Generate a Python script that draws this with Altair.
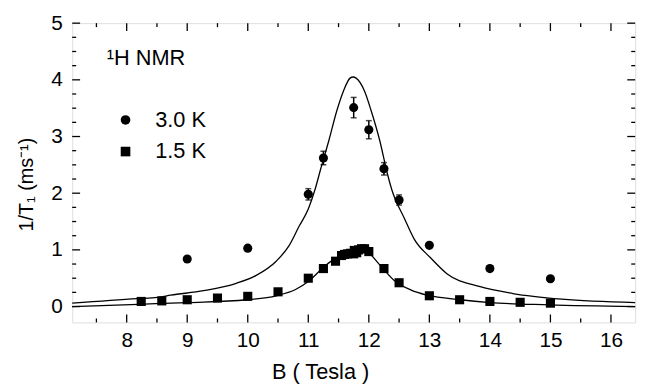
import altair as alt
import pandas as pd

# ---- data ----
# 3.0 K (circles) with error bars
b30 = [9.0, 10.0, 11.0, 11.25, 11.75, 12.0, 12.25, 12.5, 13.0, 14.0, 15.0]
r30 = [0.84, 1.03, 1.98, 2.62, 3.51, 3.12, 2.43, 1.88, 1.08, 0.67, 0.49]
e30 = [0.0, 0.0, 0.10, 0.12, 0.18, 0.16, 0.11, 0.09, 0.0, 0.0, 0.0]

# 1.5 K (squares)
b15 = [8.24, 8.58, 9.0, 9.5, 10.0, 10.5, 11.0, 11.25, 11.45, 11.55, 11.6, 11.65,
       11.7, 11.75, 11.8, 11.76, 11.83, 11.88, 11.93, 12.0, 12.25, 12.5, 13.0,
       13.5, 14.0, 14.5, 15.0]
r15 = [0.09, 0.10, 0.12, 0.15, 0.18, 0.26, 0.50, 0.67, 0.80, 0.90, 0.92, 0.93,
       0.94, 0.93, 0.95, 0.99, 1.00, 1.02, 1.02, 0.97, 0.67, 0.42, 0.19,
       0.12, 0.09, 0.075, 0.06]

# fitted curves
fit30_b = [7.1, 8.18, 8.51, 8.73, 9.27, 9.81, 10.14, 10.47, 10.68, 10.85, 11.0,
           11.11, 11.2, 11.34, 11.47, 11.58, 11.69, 11.74, 11.79, 11.93, 12.04,
           12.18, 12.31, 12.38, 12.59, 12.75, 13.02, 13.29, 13.84, 14.38, 15.19, 16.4]
fit30_r = [0.06, 0.14, 0.16, 0.20, 0.28, 0.41, 0.55, 0.80, 1.07, 1.42, 1.72,
           2.06, 2.41, 2.93, 3.45, 3.80, 4.03, 4.05, 4.03, 3.80, 3.45,
           2.93, 2.33, 2.06, 1.55, 1.19, 0.86, 0.58, 0.35, 0.23, 0.13, 0.07]
fit15_b = [7.1, 8.19, 9.0, 9.98, 10.47, 10.79, 11.0, 11.23, 11.39, 11.61, 11.75,
           11.9, 12.0, 12.21, 12.42, 12.7, 12.97, 13.51, 14.0, 14.98, 16.4]
fit15_r = [0.0, 0.04, 0.07, 0.12, 0.19, 0.30, 0.44, 0.67, 0.81, 0.94, 1.00,
           1.03, 0.95, 0.70, 0.46, 0.29, 0.20, 0.12, 0.07, 0.03, 0.0]

# axis ticks
x_major = [8, 9, 10, 11, 12, 13, 14, 15, 16]
x_minor = [7.5, 8.5, 9.5, 10.5, 11.5, 12.5, 13.5, 14.5, 15.5]
y_major = [0, 1, 2, 3, 4, 5]
y_minor = [0.25, 0.5, 0.75, 1.25, 1.5, 1.75, 2.25, 2.5, 2.75, 3.25, 3.5, 3.75,
           4.25, 4.5, 4.75]

FONT = "Liberation Sans"
W, H = 570, 303

xs = alt.Scale(domain=[7.1, 16.4], nice=False, zero=False)
ys = alt.Scale(domain=[-0.28, 5], nice=False, zero=False)

pts = pd.DataFrame({
    "B": b30 + b15,
    "R": r30 + r15,
    "series": ["3.0 K"] * len(b30) + ["1.5 K"] * len(b15),
})
err = pd.DataFrame({"B": b30, "lo": [r - e for r, e in zip(r30, e30)],
                    "hi": [r + e for r, e in zip(r30, e30)], "e": e30})
err = err[err["e"] > 0]
fits = pd.DataFrame({
    "B": fit30_b + fit15_b,
    "R": fit30_r + fit15_r,
    "curve": ["3.0 K"] * len(fit30_b) + ["1.5 K"] * len(fit15_b),
})

xaxis = alt.Axis(title="B ( Tesla )", values=x_major, format="d", ticks=False,
                 domain=False, grid=False, labelFontSize=21, titleFontSize=22,
                 labelPadding=7, titlePadding=12, titleFontWeight="normal",
                 labelFont=FONT, titleFont=FONT, labelColor="black",
                 titleColor="black", titleX=251, titleAnchor="middle")
yaxis = alt.Axis(title="1/T\u2081 (ms\u207b\u00b9)", values=y_major, format="d",
                 ticks=False, domain=False, grid=False, labelFontSize=21,
                 titleFontSize=20, labelPadding=10, titleFontWeight="normal",
                 labelFont=FONT, titleFont=FONT, labelColor="black",
                 titleColor="black", titleX=-36, titleY=163)

curves = alt.Chart(fits).mark_line(color="black", strokeWidth=1.3,
                                   interpolate="monotone").encode(
    x=alt.X("B:Q", scale=xs, axis=xaxis),
    y=alt.Y("R:Q", scale=ys, axis=yaxis),
    detail="curve:N",
)

bars = alt.Chart(err).mark_rule(color="black", strokeWidth=1.5).encode(
    x=alt.X("B:Q", scale=xs), y=alt.Y("lo:Q", scale=ys), y2="hi:Q")
cap_lo = alt.Chart(err).mark_tick(color="black", orient="horizontal", size=6,
                                  thickness=1.5).encode(
    x=alt.X("B:Q", scale=xs), y=alt.Y("lo:Q", scale=ys))
cap_hi = alt.Chart(err).mark_tick(color="black", orient="horizontal", size=6,
                                  thickness=1.5).encode(
    x=alt.X("B:Q", scale=xs), y=alt.Y("hi:Q", scale=ys))

points = alt.Chart(pts).mark_point(filled=True, color="black", opacity=1,
                                   size=85).encode(
    x=alt.X("B:Q", scale=xs),
    y=alt.Y("R:Q", scale=ys),
    shape=alt.Shape("series:N",
                    scale=alt.Scale(domain=["3.0 K", "1.5 K"],
                                    range=["circle", "square"]),
                    legend=alt.Legend(title=None, orient="none", legendX=43,
                                      legendY=87, labelFontSize=22,
                                      labelFont=FONT, labelColor="black",
                                      symbolSize=95, symbolFillColor="black",
                                      symbolStrokeWidth=0, labelOffset=19,
                                      rowPadding=10)),
)

# inward tick marks on all four sides
def vticks(vals, y0, y1):
    return alt.Chart(pd.DataFrame({"v": vals})).mark_rule(
        color="black", strokeWidth=1.3).encode(
        x=alt.X("v:Q", scale=xs), y=alt.value(y0), y2=alt.value(y1))

def hticks(vals, x0, x1):
    return alt.Chart(pd.DataFrame({"v": vals})).mark_rule(
        color="black", strokeWidth=1.3).encode(
        y=alt.Y("v:Q", scale=ys), x=alt.value(x0), x2=alt.value(x1))

tick_layers = [
    vticks(x_major, H, H - 8), vticks(x_minor, H, H - 4),
    vticks(x_major, 0, 8), vticks(x_minor, 0, 4),
    hticks(y_major, 0, 8), hticks(y_minor, 0, 4),
    hticks(y_major, W, W - 8), hticks(y_minor, W, W - 4),
]

label = alt.Chart(pd.DataFrame({"t": ["\u00b9H NMR"]})).mark_text(
    align="left", baseline="alphabetic", fontSize=22, font=FONT,
    color="black").encode(text="t:N", x=alt.value(35), y=alt.value(42))

chart = alt.layer(curves, bars, cap_lo, cap_hi, points, label, *tick_layers).properties(
    width=W, height=H,
    autosize=alt.AutoSizeParams(type="none"),
    padding={"left": 65, "top": 13, "right": 14, "bottom": 60},
).configure_view(stroke="black", strokeWidth=1.5).configure(background="white")

chart.save("out.html", embed_options={"renderer": "svg", "actions": False})
